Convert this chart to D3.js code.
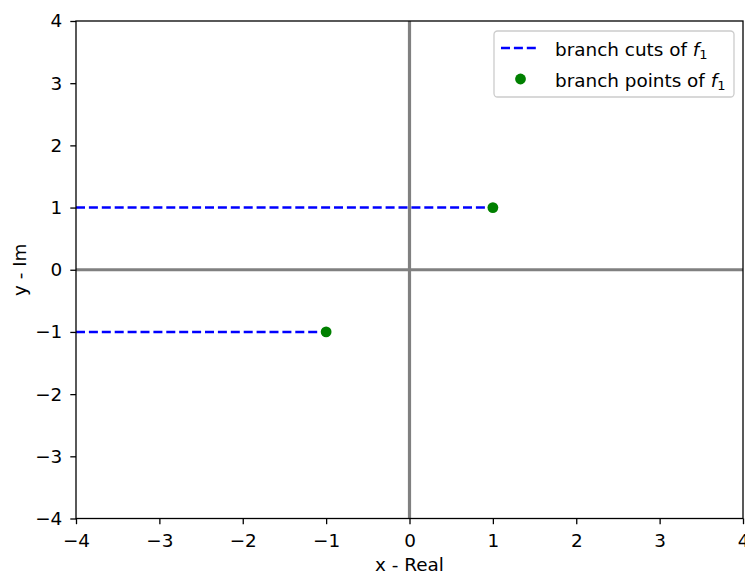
<!DOCTYPE html>
<html>
<head>
<meta charset="utf-8">
<script src="https://cdn.jsdelivr.net/npm/d3@7"></script>
<style>
body { margin: 0; background: white; }
text { font-family: "DejaVu Sans", sans-serif; }
</style>
</head>
<body>
<script>
"use strict";

// branch cuts: horizontal rays from x = -4 to the branch point
const cutStartX = [-4, -4];
const cutEndX = [1, -1];
const cutY = [1, -1];
// branch points
const pointX = [1, -1];
const pointY = [1, -1];
// ticks
const xTicks = [-4, -3, -2, -1, 0, 1, 2, 3, 4];
const yTicks = [-4, -3, -2, -1, 0, 1, 2, 3, 4];

(function()
{
	const W = 745, H = 574;
	const plotLeft = 76, plotRight = 743, plotTop = 21, plotBottom = 518.5;
	const fontSize = 18.4;

	let svg = d3.select("body").append("svg")
		.attr("width", W)
		.attr("height", H);

	let x = d3.scaleLinear().domain([-4, 4]).range([plotLeft, plotRight]);
	let y = d3.scaleLinear().domain([-4, 4]).range([plotBottom, plotTop]);

	let fmt = function(d) { return d < 0 ? "\u2212" + Math.abs(d) : String(d); };

	//axes through the origin
	svg.append("line")
		.attr("x1", x(-4)).attr("x2", x(4))
		.attr("y1", y(0)).attr("y2", y(0))
		.attr("stroke", "grey").attr("stroke-width", 3.2);
	svg.append("line")
		.attr("x1", x(0)).attr("x2", x(0))
		.attr("y1", y(-4)).attr("y2", y(4))
		.attr("stroke", "grey").attr("stroke-width", 3.2);

	//branch cuts
	for (let i = 0; i < cutY.length; ++i)
	{
		svg.append("line")
			.attr("x1", x(cutStartX[i])).attr("x2", x(cutEndX[i]))
			.attr("y1", y(cutY[i])).attr("y2", y(cutY[i]))
			.attr("stroke", "blue")
			.attr("stroke-width", 2.4)
			.attr("stroke-dasharray", "9,3.9");
	}

	//branch points
	svg.append("g").selectAll("circle")
		.data(d3.range(pointX.length))
		.join("circle")
		.attr("cx", function(i) { return x(pointX[i]); })
		.attr("cy", function(i) { return y(pointY[i]); })
		.attr("r", 5.4)
		.attr("fill", "green");

	//axes
	let xAxis = svg.append("g")
		.attr("transform", "translate(0," + plotBottom + ")")
		.call(d3.axisBottom(x).tickValues(xTicks).tickFormat(fmt).tickSize(5.7).tickPadding(10));
	let yAxis = svg.append("g")
		.attr("transform", "translate(" + plotLeft + ",0)")
		.call(d3.axisLeft(y).tickValues(yTicks).tickFormat(fmt).tickSize(5.7).tickPadding(8));
	for (let ax of [xAxis, yAxis])
	{
		ax.select(".domain").remove();
		ax.selectAll(".tick line").attr("stroke", "black").attr("stroke-width", 1.3);
		ax.selectAll(".tick text")
			.attr("font-size", fontSize)
			.attr("font-family", "DejaVu Sans")
			.attr("fill", "black");
	}

	//frame
	svg.append("rect")
		.attr("x", plotLeft).attr("y", plotTop)
		.attr("width", plotRight - plotLeft).attr("height", plotBottom - plotTop)
		.attr("fill", "none")
		.attr("stroke", "black")
		.attr("stroke-width", 1.3);

	//axis labels
	svg.append("text")
		.attr("x", (plotLeft + plotRight) / 2).attr("y", 571)
		.attr("text-anchor", "middle")
		.attr("font-size", fontSize)
		.text("x - Real");
	svg.append("text")
		.attr("transform", "translate(26," + (plotTop + plotBottom) / 2 + ") rotate(-90)")
		.attr("text-anchor", "middle")
		.attr("font-size", fontSize)
		.text("y - Im");

	//legend
	let legend = svg.append("g");
	legend.append("rect")
		.attr("x", 494).attr("y", 31)
		.attr("width", 240).attr("height", 66)
		.attr("rx", 3.5)
		.attr("fill", "white").attr("fill-opacity", 0.8)
		.attr("stroke", "#cccccc").attr("stroke-width", 1.3);
	legend.append("line")
		.attr("x1", 501).attr("x2", 539)
		.attr("y1", 48).attr("y2", 48)
		.attr("stroke", "blue").attr("stroke-width", 2.4)
		.attr("stroke-dasharray", "9,3.9");
	legend.append("circle")
		.attr("cx", 520.5).attr("cy", 79).attr("r", 5.4)
		.attr("fill", "green");
	let labels = ["branch cuts of ", "branch points of "];
	labels.forEach(function(s, i)
	{
		let t = legend.append("text")
			.attr("x", 555).attr("y", 55.5 + i * 31)
			.attr("font-size", fontSize);
		t.append("tspan").text(s);
		t.append("tspan").attr("font-style", "italic").text("f");
		t.append("tspan").attr("font-size", 13).attr("dy", 3.5).text("1");
	});
})();
</script>
</body>
</html>
